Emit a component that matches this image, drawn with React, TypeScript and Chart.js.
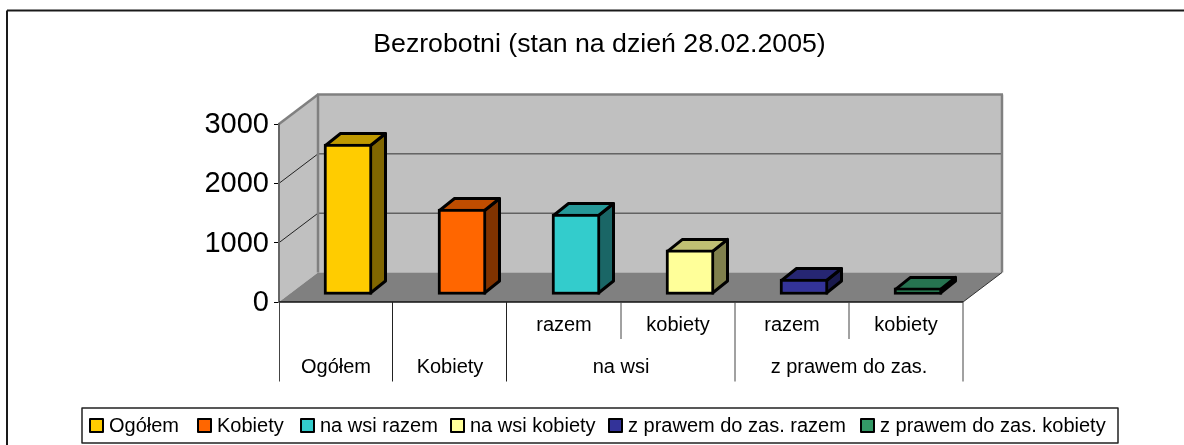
import React, { useEffect, useRef } from "react";
import { Chart, registerables } from "chart.js";

Chart.register(...registerables);

const legendLabels = ["Ogółem", "Kobiety", "na wsi razem", "na wsi kobiety", "z prawem do zas. razem", "z prawem do zas. kobiety"];
const subLabels = ["", "", "razem", "kobiety", "razem", "kobiety"];
const groupLabels = ["Ogółem", "Kobiety", "na wsi", "z prawem do zas."];
const groupSpans = [1, 1, 2, 2];
const values = [2545, 1450, 1365, 760, 270, 120];
const frontColors = ["#FFCC00", "#FF6600", "#33CCCC", "#FFFF99", "#333399", "#339966"];
const topColors = ["#BF9900", "#BF4D00", "#269999", "#BFBF73", "#262673", "#267350"];
const sideColors = ["#806600", "#803300", "#1A6666", "#80804D", "#1A1A4D", "#1A4D33"];
const yTicks = [0, 1000, 2000, 3000];
const titleText = "Bezrobotni (stan na dzień 28.02.2005)";

const FONT = '"Liberation Sans", Arial, sans-serif';
const WALL_DX = 39;
const WALL_DY = 29.5;
const BAR_DX = 15;
const BAR_DY = 12;
const BAR_SHIFT_X = 12;
const BAR_SHIFT_Y = -7;
const BAR_STROKE = 3;
const LEGEND_ITEM_X = [89, 197, 300, 450, 608, 860];

function poly(ctx: CanvasRenderingContext2D, pts: number[][], fill: string | null, stroke: string | null, lw = 1) {
  ctx.beginPath();
  pts.forEach((p, i) => (i ? ctx.lineTo(p[0], p[1]) : ctx.moveTo(p[0], p[1])));
  ctx.closePath();
  if (fill) {
    ctx.fillStyle = fill;
    ctx.fill();
  }
  if (stroke) {
    ctx.strokeStyle = stroke;
    ctx.lineWidth = lw;
    ctx.lineJoin = "round";
    ctx.stroke();
  }
}

function line(ctx: CanvasRenderingContext2D, x1: number, y1: number, x2: number, y2: number, color: string, lw = 1) {
  ctx.beginPath();
  ctx.moveTo(x1, y1);
  ctx.lineTo(x2, y2);
  ctx.strokeStyle = color;
  ctx.lineWidth = lw;
  ctx.stroke();
}

const wallsPlugin = {
  id: "walls",
  beforeDraw(chart: any) {
    const { ctx, chartArea: a, scales } = chart;
    const y = scales.y;
    ctx.save();
    ctx.fillStyle = "#FFFFFF";
    ctx.fillRect(0, 0, chart.width, chart.height);
    // chart frame: top and left edges
    line(ctx, 7, 445, 7, 10.5, "#1a1a1a", 2);
    line(ctx, 7, 10.5, chart.width, 10.5, "#1a1a1a", 2);

    const bx = a.left + WALL_DX;
    const bxr = a.right + WALL_DX;
    const bt = a.top - WALL_DY;
    const bb = a.bottom - WALL_DY;
    poly(ctx, [[bx, bt], [bxr, bt], [bxr, bb], [bx, bb]], "#C0C0C0", null);
    poly(ctx, [[a.left, a.top], [bx, bt], [bx, bb], [a.left, a.bottom]], "#C0C0C0", null);
    yTicks.slice(1, -1).forEach((t) => {
      const py = y.getPixelForValue(t);
      line(ctx, a.left, py, bx, py - WALL_DY, "#222222", 1);
      line(ctx, bx, py - WALL_DY, bxr, py - WALL_DY, "#333333", 1);
    });
    poly(ctx, [[a.left, a.bottom], [bx, bb], [bxr, bb], [a.right, a.bottom]], "#808080", null);
    line(ctx, bx, bt, bx, bb, "#808080", 2.5);
    line(ctx, a.left, a.top, bx, bt, "#808080", 2.5);
    line(ctx, bx - 1, bt, bxr + 1, bt, "#808080", 2.5);
    line(ctx, bxr, bt, bxr, bb, "#808080", 2.5);
    line(ctx, a.right, a.bottom, bxr, bb, "#333333", 1);
    ctx.restore();
  },
  afterLayout(chart: any) {
    // Title is centred slightly right of the page centre in the reference.
    if (chart.titleBlock) {
      chart.titleBlock.left = 15;
      chart.titleBlock.right = chart.width;
    }
    // Tick labels sit optically centred on their ticks in the reference.
    const yScale = chart.scales.y;
    if (!yScale.__shifted) {
      yScale.__shifted = true;
      const orig = yScale.drawLabels;
      yScale.drawLabels = function (area: any) {
        chart.ctx.save();
        chart.ctx.translate(0, 1);
        orig.call(this, area);
        chart.ctx.restore();
      };
    }
  },
  beforeDatasetsDraw(chart: any) {
    const { ctx } = chart;
    const meta = chart.getDatasetMeta(0);
    ctx.save();
    ctx.translate(BAR_SHIFT_X, BAR_SHIFT_Y);
    const inset = BAR_STROKE / 2;
    meta.data.forEach((bar: any, i: number) => {
      const { x, y, base, width } = bar.getProps(["x", "y", "base", "width"], true);
      const l = x - width / 2 + inset;
      const r = x + width / 2 - inset;
      const t = y + inset;
      const b = base - inset;
      poly(ctx, [[r, t], [r + BAR_DX, t - BAR_DY], [r + BAR_DX, b - BAR_DY], [r, b]], sideColors[i], "#000000", BAR_STROKE);
      poly(ctx, [[l, t], [l + BAR_DX, t - BAR_DY], [r + BAR_DX, t - BAR_DY], [r, t]], topColors[i], "#000000", BAR_STROKE);
    });
  },
  afterDatasetsDraw(chart: any) {
    chart.ctx.restore();
  },
  afterDraw(chart: any) {
    const { ctx, chartArea: a, scales } = chart;
    const x = scales.x;
    const step = (a.right - a.left) / values.length;
    ctx.save();
    // category axis: floor edge, separators and the two label levels
    line(ctx, a.left, a.bottom, a.right, a.bottom, "#111111", 1.5);
    let start = 0;
    line(ctx, a.left + 0.5, a.bottom, a.left + 0.5, 381.5, "#444444", 1);
    ctx.font = `20px ${FONT}`;
    ctx.fillStyle = "#000000";
    ctx.textAlign = "center";
    ctx.textBaseline = "middle";
    groupLabels.forEach((g, gi) => {
      const span = groupSpans[gi];
      const cx = (x.getPixelForValue(start) + x.getPixelForValue(start + span - 1)) / 2;
      ctx.fillStyle = "#000000";
      ctx.fillText(g, cx, 367);
      const raw = a.left + step * (start + span);
      const edge = raw > 700 ? raw : raw - 0.5;
      line(ctx, edge, a.bottom, edge, 381.5, raw > 700 ? "#444444" : "#222222", 1);
      if (span > 1) {
        const mid = a.left + step * (start + 1);
        line(ctx, mid, a.bottom, mid, 339, "#444444", 1);
      }
      start += span;
    });
    // legend
    poly(ctx, [[82, 408], [1118, 408], [1118, 443], [82, 443]], "#FFFFFF", "#222222", 1.5);
    ctx.textAlign = "left";
    legendLabels.forEach((label, i) => {
      const lx = LEGEND_ITEM_X[i];
      ctx.fillStyle = frontColors[i];
      ctx.strokeStyle = "#000000";
      ctx.lineWidth = 2;
      ctx.fillRect(lx + 1, 419, 13, 13);
      ctx.strokeRect(lx + 1, 419, 13, 13);
      ctx.fillStyle = "#000000";
      ctx.fillText(label, lx + 20, 426);
    });
    ctx.restore();
  },
};

export default function App() {
  const ref = useRef<HTMLCanvasElement>(null);
  useEffect(() => {
    const chart = new Chart(ref.current as HTMLCanvasElement, {
      type: "bar",
      data: {
        labels: legendLabels,
        datasets: [
          {
            data: values,
            backgroundColor: frontColors,
            borderColor: "#000000",
            borderWidth: BAR_STROKE,
            borderSkipped: false,
            barThickness: 48,
            clip: false,
          } as any,
        ],
      },
      plugins: [wallsPlugin],
      options: {
        animation: false,
        responsive: false,
        layout: { padding: { left: 0, right: 221, top: 0, bottom: 0 } },
        plugins: {
          legend: { display: false },
          tooltip: { enabled: false },
          title: {
            display: true,
            text: titleText,
            color: "#000000",
            font: { family: FONT, size: 26.7, weight: "normal", lineHeight: 1.2 },
            padding: { top: 29, bottom: 63 },
          },
        },
        scales: {
          x: {
            offset: true,
            afterFit(scale: any) {
              scale.height = 143;
            },
            grid: { display: false },
            border: { display: false },
            ticks: {
              autoSkip: false,
              maxRotation: 0,
              minRotation: 0,
              padding: 3,
              color: "#000000",
              font: { family: FONT, size: 20 },
              callback: (_v: any, i: number) => subLabels[i],
            },
          },
          y: {
            min: 0,
            max: 3000,
            afterFit(scale: any) {
              scale.width = 279;
            },
            afterBuildTicks(scale: any) {
              scale.ticks = yTicks.map((value) => ({ value }));
            },
            border: { display: true, color: "#666666", width: 2 },
            grid: { drawOnChartArea: false, drawTicks: true, tickLength: 5, color: "#000000" },
            ticks: {
              padding: 5,
              color: "#000000",
              font: { family: FONT, size: 29 },
              callback: (v: any) => String(v),
            },
          },
        },
      },
    } as any);
    return () => chart.destroy();
  }, []);
  return (
    <div style={{ position: "absolute", left: 0, top: 0, width: 1184, height: 445 }}>
      <canvas ref={ref} width={1184} height={445} style={{ display: "block" }} />
    </div>
  );
}
